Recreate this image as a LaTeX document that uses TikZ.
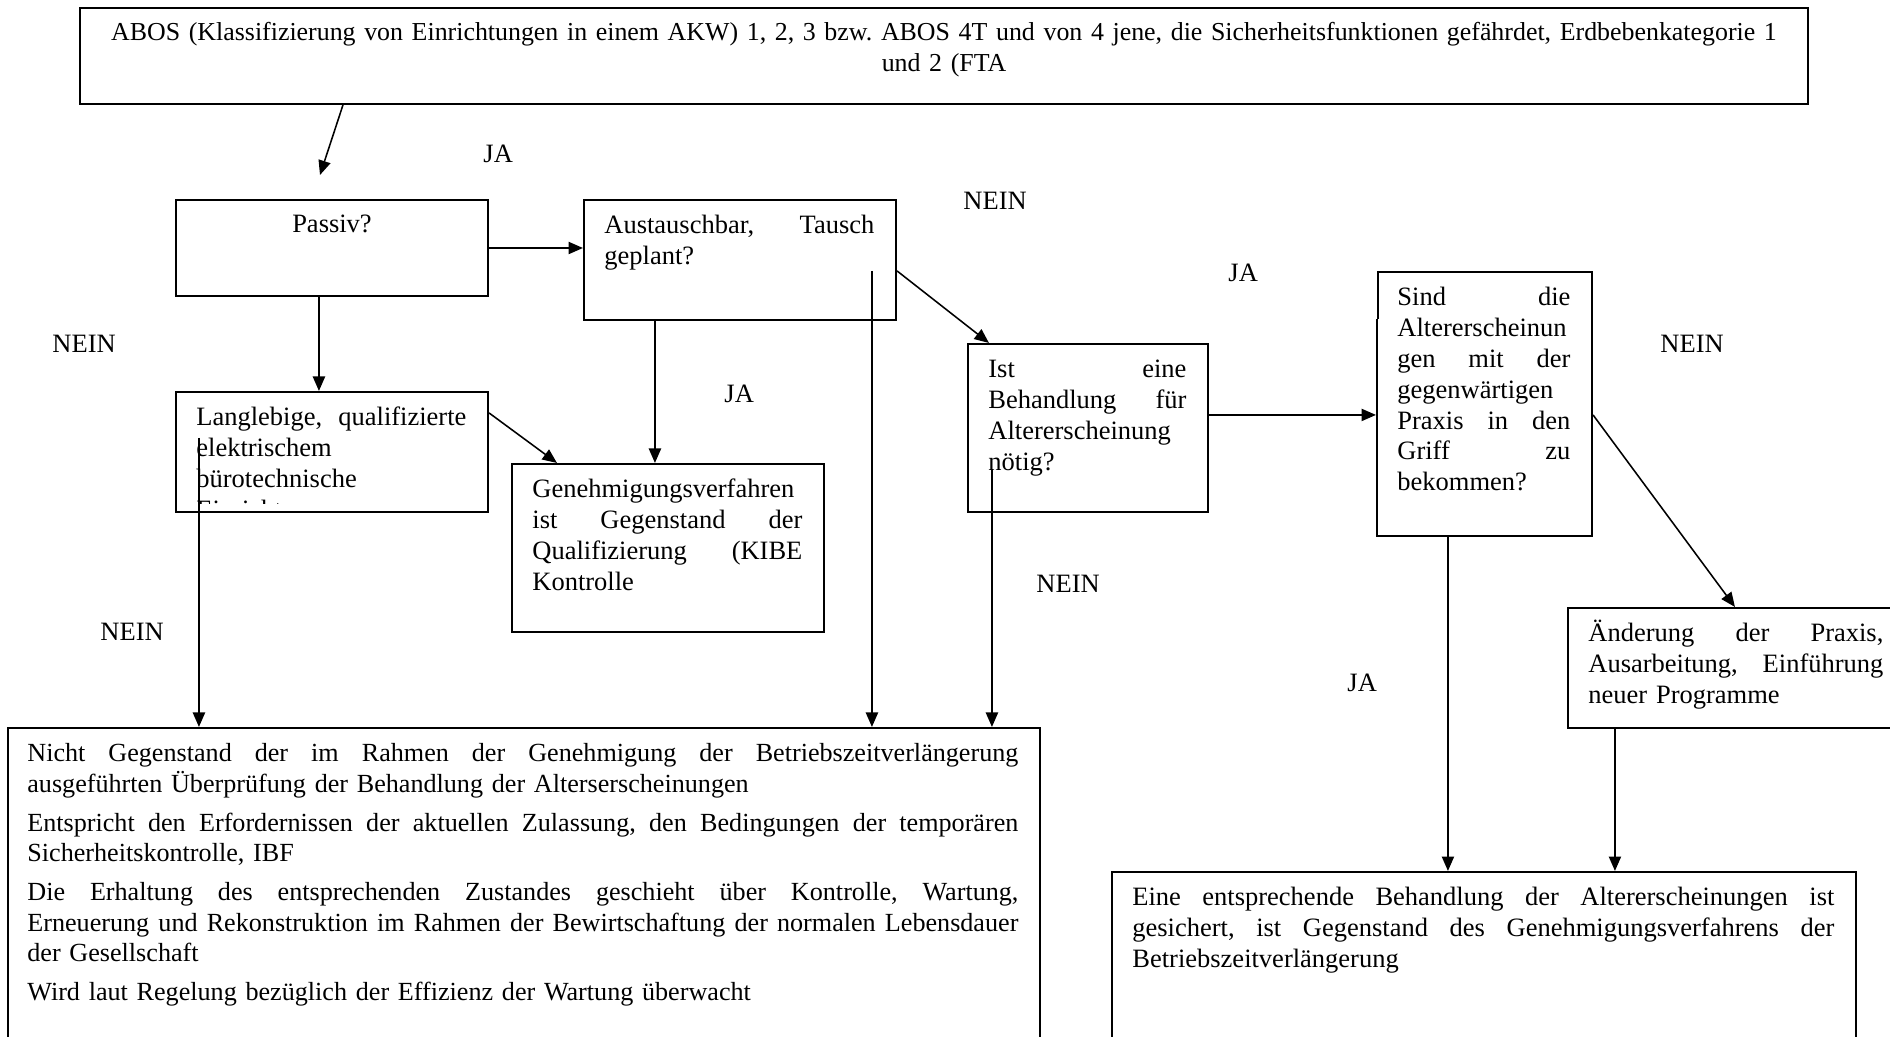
\documentclass[tikz,border=0pt]{standalone}
\usepackage{fontspec}
\setmainfont{Liberation Serif}
\usetikzlibrary{arrows.meta,calc,fit}
\newcommand{\fs}{\fontsize{11.925pt}{13.86pt}\selectfont\frenchspacing}
\newcommand{\fsn}{\fontsize{11.76pt}{13.86pt}\selectfont\frenchspacing}
\makeatletter
\def\J#1#2{\leavevmode\hbox to #1{\J@a#2 \J@end}}
\def\J@a#1 #2\J@end{#1\J@b#2\J@end}
\def\J@b#1\J@end{\if\relax\detokenize{#1}\relax\else\ \hfill\J@a#1\J@end\fi}
\makeatother
\begin{document}
\begin{tikzpicture}[x=0.45pt,y=-0.45pt,
  box/.style={draw=black,line width=0.95pt,inner sep=0pt},
  txt/.style={font=\fs,inner sep=0pt,anchor=base west,align=left,text width=#1},
  lbl/.style={font=\fs,inner sep=0pt,anchor=base west},
  arr/.style={line width=0.7pt,-{Triangle[length=6.5pt,width=5.5pt]}}]
\useasboundingbox (0,0) rectangle (1890,1037);
\clip (0,0) rectangle (1890,1037);

% boxes
\node[box,fit={(80,8)(1808,104)}] (abos) {};
\node[box,fit={(176,200)(488,296)}] (passiv) {};
\node[box,fit={(584,200)(896,320)}] (austausch) {};
\node[box,fit={(176,392)(488,512)}] (lang) {};
\node[box,fit={(512,464)(824,632)}] (gen) {};
\node[box,fit={(968,344)(1208,512)}] (ist) {};
\node[box,fit={(1377,272)(1592,536)}] (sind) {};
\node[box,fit={(1568,608)(1905,728)}] (aend) {};
\node[box,fit={(8,728)(1040,1060)}] (nicht) {};
\node[box,fit={(1112,872)(1856,1060)}] (res) {};
% faint upper part of the left border of the "Sind" box
\draw[white,line width=1.3pt] (sind.north west) -- ($(sind.north west)+(0,48)$);
\draw[line width=0.4pt] ($(sind.north west)+(2,0)$) -- ($(sind.north west)+(2,48)$);

% texts
\node[font={\fontsize{11.65pt}{13.86pt}\selectfont\frenchspacing},inner sep=0pt,anchor=base,align=center,text width=777pt] (abosT) at ($(abos.north)+(0,34)$)
 {ABOS (Klassifizierung von Einrichtungen in einem AKW) 1, 2, 3 bzw. ABOS 4T und von 4 jene, die Sicherheitsfunktionen gefährdet, Erdbebenkategorie 1\\und 2 (FTA};
\node[font=\fs,inner sep=0pt,anchor=base] (passivT) at ($(passiv.north)+(0,34)$) {Passiv?};
\node[txt=121.5pt] (austauschT) at ($(austausch.north west)+(21,35)$)
 {\J{121.5pt}{Austauschbar, Tausch}\\geplant?};
\begin{scope}
\clip (176,392) rectangle (488,504);
\node[txt=121.5pt] (langT) at ($(lang.north west)+(21,35)$)
 {\J{121.5pt}{Langlebige, qualifizierte}\\elektrischem\\bürotechnische\\Einrichtungen};
\end{scope}
\node[txt=121.5pt] (genT) at ($(gen.north west)+(21,35)$)
 {Genehmigungsverfahren\\\J{121.5pt}{ist Gegenstand der}\\\J{121.5pt}{Qualifizierung (KIBE}\\Kontrolle};
\node[txt=89.1pt] (istT) at ($(ist.north west)+(21,35)$)
 {\J{89.1pt}{Ist eine}\\\J{89.1pt}{Behandlung für}\\Altererscheinung\\nötig?};
\node[txt=77.85pt] (sindT) at ($(sind.north west)+(21,35)$)
 {\J{77.85pt}{Sind die}\\Altererscheinun\\\J{77.85pt}{gen mit der}\\gegenwärtigen\\\J{77.85pt}{Praxis in den}\\\J{77.85pt}{Griff zu}\\bekommen?};
\node[txt=132.75pt] (aendT) at ($(aend.north west)+(21,35)$)
 {\J{132.75pt}{Änderung der Praxis,}\\\J{132.75pt}{Ausarbeitung, Einführung}\\neuer Programme};
\node[txt=315.9pt] (resT) at ($(res.north west)+(21,35)$)
 {\J{315.9pt}{Eine entsprechende Behandlung der Altererscheinungen ist}\\\J{315.9pt}{gesichert, ist Gegenstand des Genehmigungsverfahrens der}\\Betriebszeitverlängerung};
\node[txt=445.95pt,font=\fsn] (nichtT) at ($(nicht.north west)+(20,35)$)
 {\J{445.95pt}{Nicht Gegenstand der im Rahmen der Genehmigung der Betriebszeitverlängerung}\\
  ausgeführten Überprüfung der Behandlung der Alterserscheinungen\\[3.4pt]
  \J{445.95pt}{Entspricht den Erfordernissen der aktuellen Zulassung, den Bedingungen der temporären}\\
  Sicherheitskontrolle, IBF\\[3.4pt]
  \J{445.95pt}{Die Erhaltung des entsprechenden Zustandes geschieht über Kontrolle, Wartung,}\\
  \J{445.95pt}{Erneuerung und Rekonstruktion im Rahmen der Bewirtschaftung der normalen Lebensdauer}\\
  der Gesellschaft\\[3.4pt]
  Wird laut Regelung bezüglich der Effizienz der Wartung überwacht};

% labels
\node[lbl] (ja1) at (483,163) {JA};
\node[lbl] (ja2) at (1228,282) {JA};
\node[lbl] (ja3) at (724,403) {JA};
\node[lbl] (ja4) at (1347,692) {JA};
\node[lbl] (nein1) at (963,210) {NEIN};
\node[lbl] (nein2) at (52,353) {NEIN};
\node[lbl] (nein3) at (1660,353) {NEIN};
\node[lbl] (nein4) at (100,641) {NEIN};
\node[lbl] (nein5) at (1036,593) {NEIN};

% connectors
\coordinate (a1) at (320,175);
\draw[arr] ($(abos.south west)+(264,0)$) -- (a1);
\draw[arr] (passiv.east) -- (passiv.east -| austausch.west);
\draw[arr] ($(passiv.south west)+(144,0)$) -- ($(lang.north west)+(144,0)$);
\draw[arr] ($(lang.north east)+(0,22)$) -- ($(gen.north west)+(46,0)$);
\draw[arr] ($(austausch.south west)+(72,0)$) -- ($(gen.north west)+(144,0)$);
\draw[arr] ($(austausch.north east)+(0,72)$) -- ($(ist.north west)+(22,0)$);
\draw[arr] ($(ist.north east)+(0,72)$) -- ($(sind.north west)+(0,144)$);
\draw[arr] ($(sind.north east)+(0,144)$) -- ($(aend.north west)+(168,0)$);
\draw[arr] ($(sind.south west)+(72,0)$) -- ($(res.north west)+(337,0)$);
\draw[arr] ($(aend.south west)+(48,0)$) -- ($(res.north west)+(504,0)$);
\draw[arr] ($(lang.north west)+(24,47)$) -- ($(nicht.north west)+(192,0)$);
\draw[arr] ($(austausch.north west)+(289,72)$) -- ($(nicht.north west)+(865,0)$);
\draw[arr] ($(ist.north west)+(25,126)$) -- ($(nicht.north west)+(985,0)$);
\end{tikzpicture}
\end{document}
